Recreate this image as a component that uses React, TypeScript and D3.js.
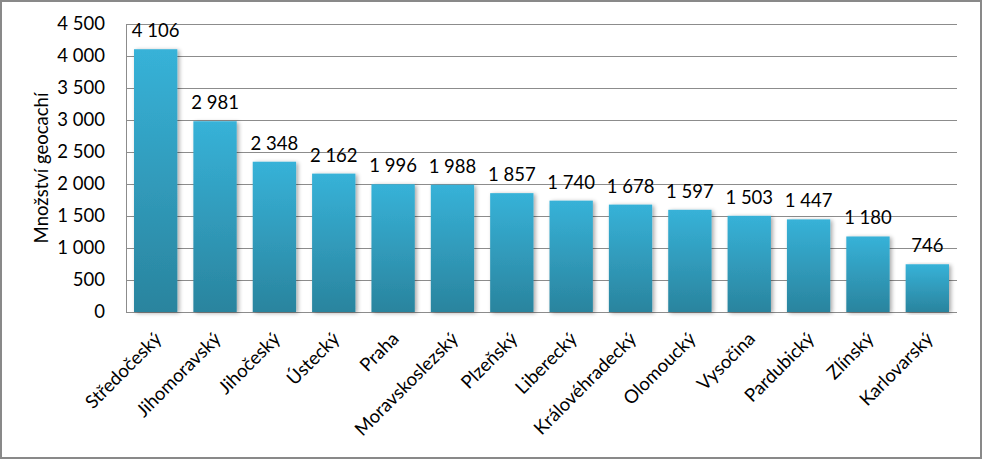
import React from "react";
import * as d3 from "d3";

const categories = ["Středočeský","Jihomoravský","Jihočeský","Ústecký","Praha","Moravskoslezský","Plzeňský","Liberecký","Královéhradecký","Olomoucký","Vysočina","Pardubický","Zlínský","Karlovarský"];
const values = [4106,2981,2348,2162,1996,1988,1857,1740,1678,1597,1503,1447,1180,746];
const yTicks = [0,500,1000,1500,2000,2500,3000,3500,4000,4500];
const yTitle = "Množství geocachí";

const W = 982, H = 459;
const m = { left: 126, right: 957, top: 24, bottom: 312 };
const font = "Lato, 'Open Sans', sans-serif";
const fs = 18.5;

const fmt = (v: number) => {
  const s = String(v);
  return s.length > 3 ? s.slice(0, s.length - 3) + " " + s.slice(-3) : s;
};

export default function App() {
  const x = d3.scaleBand<string>().domain(categories).range([m.left, m.right]).paddingInner(0.27).paddingOuter(0.135);
  const y = d3.scaleLinear().domain([0, 4500]).range([m.bottom, m.top]);
  return (
    <svg width={W} height={H} style={{ position: "absolute", left: 0, top: 0 }} fontFamily={font}>
      <defs>
        <linearGradient id="bg" x1="0" y1="0" x2="0" y2="1">
          <stop offset="0" stopColor="#37B2D8" />
          <stop offset="1" stopColor="#2A849E" />
        </linearGradient>
        <filter id="sh" x="-20%" y="-5%" width="140%" height="110%">
          <feGaussianBlur in="SourceAlpha" stdDeviation="2" />
          <feOffset dx="2" dy="1" result="b" />
          <feComponentTransfer><feFuncA type="linear" slope="0.35" /></feComponentTransfer>
          <feMerge><feMergeNode /><feMergeNode in="SourceGraphic" /></feMerge>
        </filter>
      </defs>
      <rect x={1} y={1} width={W - 2} height={H - 2} fill="#fff" stroke="#898989" strokeWidth={2} />
      {yTicks.map(t => (
        <g key={t}>
          <line x1={m.left} x2={m.right} y1={Math.round(y(t)) + 0.5} y2={Math.round(y(t)) + 0.5} stroke="#8c8c8c" strokeWidth={1} />
          <text x={105} y={y(t)} dy="0.35em" textAnchor="end" fontSize={fs} fill="#000">{fmt(t)}</text>
        </g>
      ))}
      <line x1={m.left + 0.5} x2={m.left + 0.5} y1={m.top} y2={m.bottom} stroke="#8c8c8c" />
      {categories.map((c, i) => (
        <g key={c}>
          <rect x={x(c)} y={y(values[i])} width={x.bandwidth()} height={m.bottom - y(values[i])} fill="url(#bg)" filter="url(#sh)" />
          <text x={x(c)! + x.bandwidth() / 2} y={y(values[i]) - 12} textAnchor="middle" fontSize={fs} fill="#000">{fmt(values[i])}</text>
          <text transform={`translate(${x(c)! + x.bandwidth() / 2 + 7},${340}) rotate(-45)`} textAnchor="end" fontSize={fs} fill="#000">{c}</text>
        </g>
      ))}
      <text transform={`translate(48,${(m.top + m.bottom) / 2}) rotate(-90)`} textAnchor="middle" fontSize={fs} fill="#000">{yTitle}</text>
    </svg>
  );
}
